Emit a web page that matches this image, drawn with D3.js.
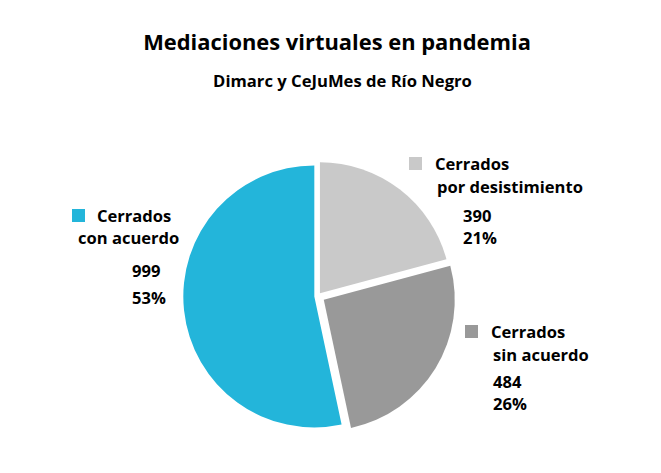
<!DOCTYPE html>
<html>
<head>
<meta charset="utf-8">
<script src="https://cdn.jsdelivr.net/npm/d3@7"></script>
<style>
  html, body { margin: 0; padding: 0; background: #fff; }
  svg { display: block; }
  text { font-family: "Open Sans", Lato, sans-serif; font-weight: bold; fill: #000; }
</style>
</head>
<body>
<svg id="chart" width="661" height="473"></svg>
<script>
// ---- data ----
const title = "Mediaciones virtuales en pandemia";
const subtitle = "Dimarc y CeJuMes de Río Negro";
const categories = ["Cerrados por desistimiento", "Cerrados sin acuerdo", "Cerrados con acuerdo"];
const labelLines = [["Cerrados", "por desistimiento"], ["Cerrados", "sin acuerdo"], ["Cerrados", "con acuerdo"]];
const values = [390, 484, 999];
const percentLabels = ["21%", "26%", "53%"];
const colors = ["#C9C9C9", "#999999", "#23B5DA"];

// ---- layout ----
const W = 661, H = 473;
const cx = 317.8, cy = 296.1, R = 131;
const explode = [3.5, 7, 3.5];
const labelPos = [
  { sq: 409, x1: 435, x2: 437, x3: 463, b: [170, 193, 222, 244] },
  { sq: 465, x1: 491, x2: 493, x3: 493, b: [338, 361, 388, 410] },
  { sq: 72,  x1: 97,  x2: 78,  x3: 132, b: [222, 244, 277, 304] }
];

const svg = d3.select("#chart");

// fit a font size so that a text reaches a target width
function fitSize(str, target, base) {
  const t = svg.append("text").style("font-size", base + "px").text(str);
  const w = t.node().getComputedTextLength();
  t.remove();
  return base * target / w;
}
const titleSize = fitSize(title, 388, 20);
const subSize = fitSize(subtitle, 259, 15);
const labelSize = fitSize("por desistimiento", 146, 16);

svg.append("text").attr("x", 337).attr("y", 49.5)
  .attr("text-anchor", "middle").style("font-size", titleSize + "px").text(title);
svg.append("text").attr("x", 342.5).attr("y", 87)
  .attr("text-anchor", "middle").style("font-size", subSize + "px").text(subtitle);

const pie = d3.pie().sort(null).value(d => d)(values);
const arc = d3.arc().innerRadius(0).outerRadius(R);

const g = svg.append("g").attr("transform", `translate(${cx},${cy})`);
g.selectAll("path").data(pie).enter().append("path")
  .attr("d", arc)
  .attr("fill", (d, i) => colors[i])
  .attr("transform", (d, i) => {
    const a = (d.startAngle + d.endAngle) / 2;
    return `translate(${Math.sin(a) * explode[i]},${-Math.cos(a) * explode[i]})`;
  });

const fs = labelSize + "px";
labelPos.forEach((p, i) => {
  svg.append("rect").attr("x", p.sq).attr("y", p.b[0] - 13)
    .attr("width", 13).attr("height", 13).attr("fill", colors[i]);
  svg.append("text").attr("x", p.x1).attr("y", p.b[0]).style("font-size", fs).text(labelLines[i][0]);
  svg.append("text").attr("x", p.x2).attr("y", p.b[1]).style("font-size", fs).text(labelLines[i][1]);
  svg.append("text").attr("x", p.x3).attr("y", p.b[2]).style("font-size", fs).text(d3.format("d")(values[i]));
  svg.append("text").attr("x", p.x3).attr("y", p.b[3]).style("font-size", fs).text(percentLabels[i]);
});
</script>
</body>
</html>
